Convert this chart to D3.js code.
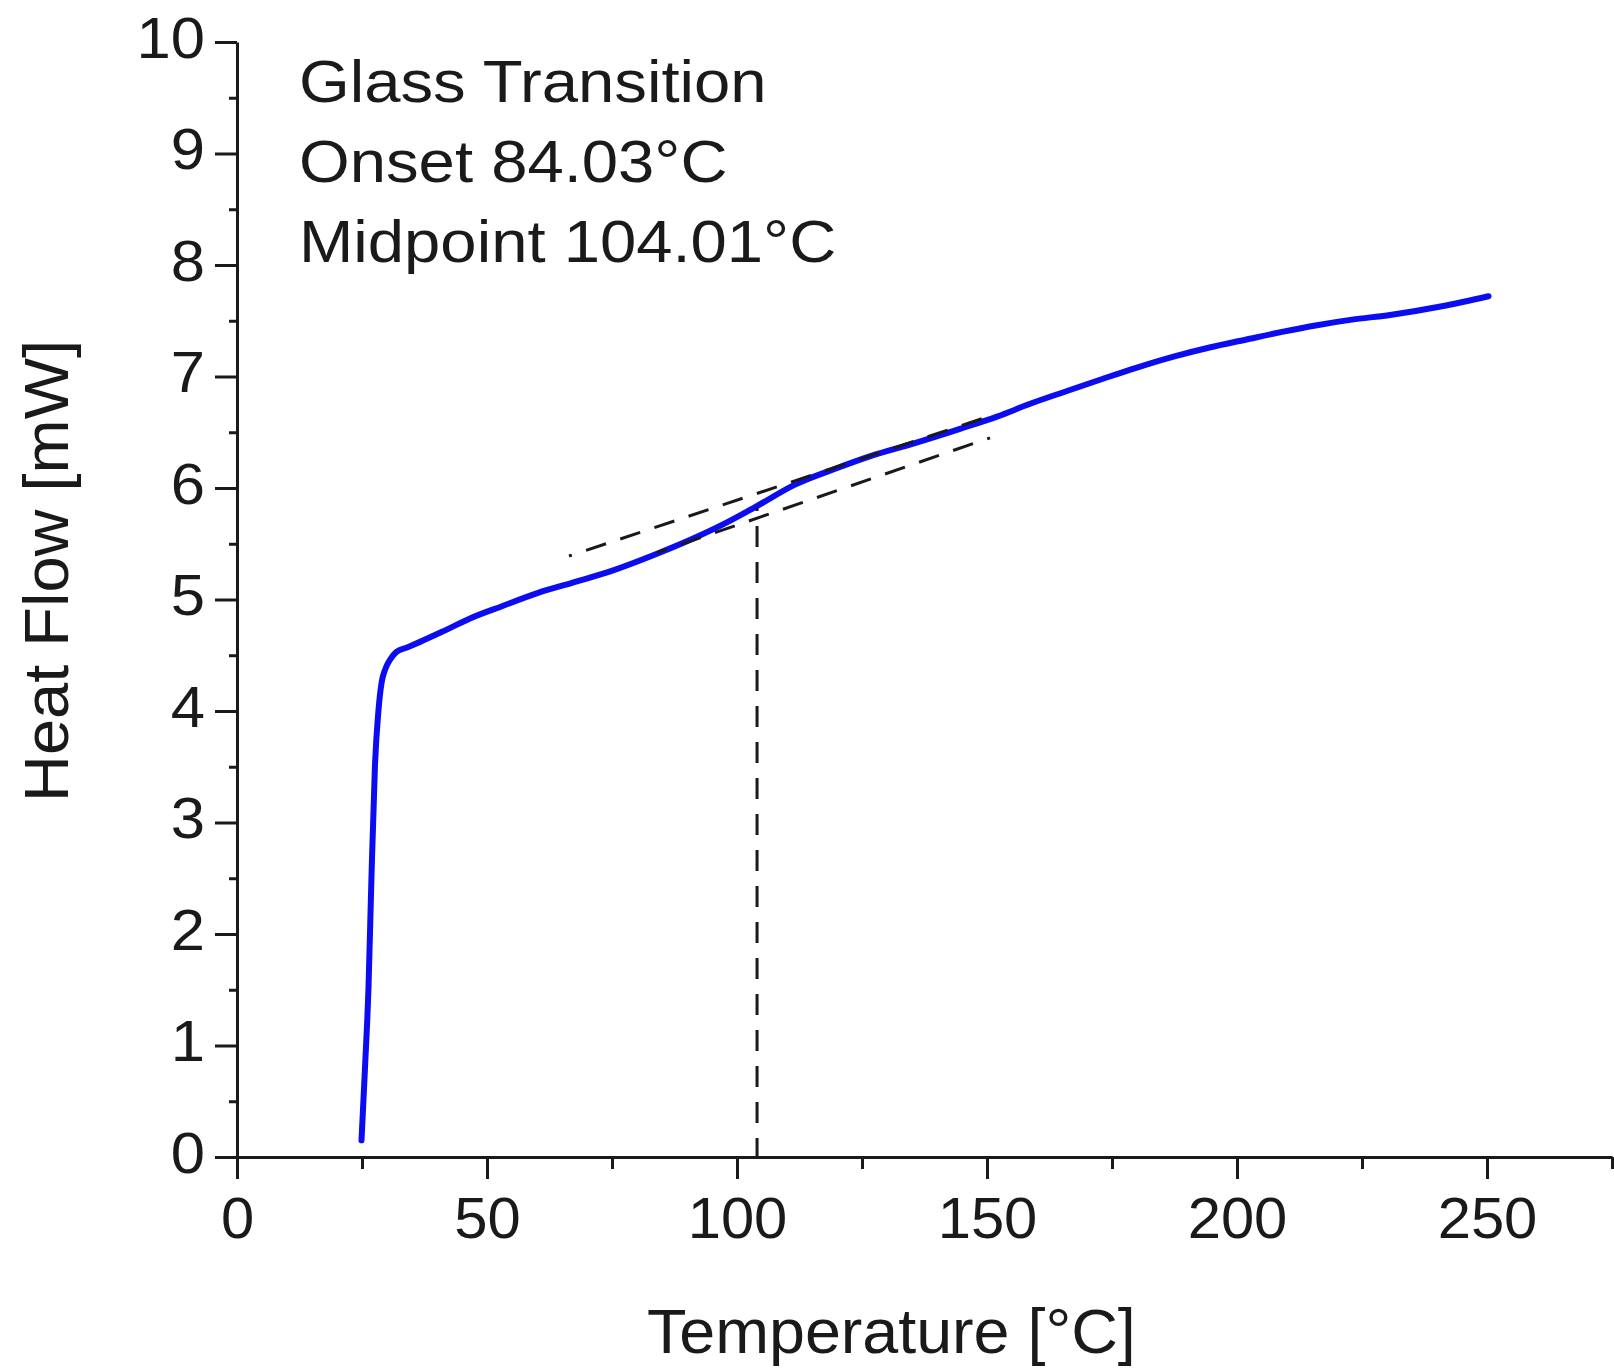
<!DOCTYPE html>
<html>
<head>
<meta charset="utf-8">
<script src="https://cdn.jsdelivr.net/npm/d3@7"></script>
<style>
  body { margin: 0; background: #fff; }
  text { font-family: "Liberation Sans", Arial, sans-serif; fill: #1a1a1a; }
</style>
</head>
<body>
<div id="chart-area"></div>
<script>
// DSC trace
var temperature = [24.9, 25.6, 26.3, 26.9, 27.6, 28.3, 28.9, 29.7, 30.6, 31.9, 34.0, 36.6, 41.0, 46.6, 53.0, 60.2, 67.0, 74.5, 84.0, 91.9, 97.5, 103.7, 111.6, 119.5, 127.0, 135.4, 144.6, 152.0, 158.9, 166.0, 173.2, 180.0, 187.5, 194.5, 201.7, 209.0, 216.0, 223.0, 230.3, 241.0, 250.3];
var heatFlow = [0.15, 0.80, 1.52, 2.52, 3.52, 4.01, 4.25, 4.38, 4.46, 4.53, 4.57, 4.62, 4.71, 4.83, 4.94, 5.06, 5.15, 5.25, 5.41, 5.56, 5.68, 5.83, 6.03, 6.17, 6.29, 6.40, 6.53, 6.64, 6.76, 6.87, 6.98, 7.08, 7.18, 7.26, 7.33, 7.40, 7.46, 7.51, 7.55, 7.63, 7.72];

// construction lines (tangents + midpoint drop)
var upperTangentT = [66.4, 150.2];
var upperTangentH = [5.39, 6.64];
var lowerTangentT = [150.6, 84.0];
var lowerTangentH = [6.45, 5.42];
var midpointT = [104.01, 104.01];
var midpointH = [5.82, 0];

var xTicks = [0, 50, 100, 150, 200, 250];
var xMinorTicks = [25, 75, 125, 175, 225, 275];
var yTicks = [0, 1, 2, 3, 4, 5, 6, 7, 8, 9, 10];
var yMinorTicks = [0.5, 1.5, 2.5, 3.5, 4.5, 5.5, 6.5, 7.5, 8.5, 9.5];
var annotation = ["Glass Transition", "Onset 84.03\u00b0C", "Midpoint 104.01\u00b0C"];
var xTitle = "Temperature [\u00b0C]";
var yTitle = "Heat Flow [mW]";

var width = 1614;
var height = 1369;
var margin = {top: 42, right: 2, bottom: 212, left: 237};
var ink = "#1a1a1a";

var svg = d3.select("#chart-area").append("svg")
  .attr("width", width)
  .attr("height", height);

var g = svg.append("g")
  .attr("transform", "translate(" + margin.left + "," + margin.top + ")");

var h = height - margin.top - margin.bottom;

var x = d3.scaleLinear().domain([0, 275]).range([0, 1375]);
var y = d3.scaleLinear().domain([0, 10]).range([h, 0]);

// stretch horizontal text a bit, the picture is wider than a plain font
function stretch(sel, k) {
  sel.each(function() {
    var len = this.getComputedTextLength();
    d3.select(this).attr("textLength", len * k).attr("lengthAdjust", "spacingAndGlyphs");
  });
}

// minor ticks first so the axis line sits on top
g.append("g")
  .attr("transform", "translate(0," + h + ")")
  .call(d3.axisBottom(x).tickValues(xMinorTicks).tickSize(12).tickFormat(""))
  .call(function(a) { a.select(".domain").remove(); })
  .selectAll("line").attr("stroke", ink).attr("stroke-width", 3);
g.append("g")
  .call(d3.axisLeft(y).tickValues(yMinorTicks).tickSize(8).tickFormat(""))
  .call(function(a) { a.select(".domain").remove(); })
  .selectAll("line").attr("stroke", ink).attr("stroke-width", 3);

var xAxis = g.append("g")
  .attr("transform", "translate(0," + h + ")")
  .call(d3.axisBottom(x).tickValues(xTicks).tickSize(22).tickSizeOuter(0).tickPadding(0));
xAxis.select(".domain").attr("stroke", ink).attr("stroke-width", 3);
xAxis.selectAll(".tick line").attr("stroke", ink).attr("stroke-width", 3);
xAxis.selectAll(".tick text")
  .attr("y", 81).attr("dy", null)
  .attr("font-size", 58)
  .attr("fill", ink)
  .style("font-family", "'Liberation Sans', Arial, sans-serif")
  .call(stretch, 1.03);

var yAxis = g.append("g")
  .call(d3.axisLeft(y).tickValues(yTicks).tickSize(22).tickSizeOuter(0).tickPadding(0));
yAxis.select(".domain").attr("stroke", ink).attr("stroke-width", 3);
yAxis.selectAll(".tick line").attr("stroke", ink).attr("stroke-width", 3);
yAxis.selectAll(".tick text")
  .attr("x", -32).attr("dy", null).attr("y", 15)
  .attr("font-size", 57)
  .attr("fill", ink)
  .style("font-family", "'Liberation Sans', Arial, sans-serif")
  .call(stretch, 1.08);

// construction lines
var seg = d3.line()
  .x(function(d) { return x(d[0]); })
  .y(function(d) { return y(d[1]); });

function drawDashed(ts, hs) {
  g.append("path")
    .datum(ts.map(function(t, i) { return [t, hs[i]]; }))
    .attr("d", seg)
    .attr("fill", "none")
    .attr("stroke", ink)
    .attr("stroke-width", 3)
    .attr("stroke-dasharray", "21,15")
    .attr("stroke-dashoffset", 18);
}

// the heat flow curve
var line = d3.line()
  .x(function(d) { return x(d[0]); })
  .y(function(d) { return y(d[1]); })
  .curve(d3.curveMonotoneX);

g.append("path")
  .datum(temperature.map(function(t, i) { return [t, heatFlow[i]]; }))
  .attr("d", line)
  .attr("fill", "none")
  .attr("stroke", "#0c0cf0")
  .attr("stroke-width", 6)
  .attr("stroke-linejoin", "round")
  .attr("stroke-linecap", "round");

drawDashed(upperTangentT, upperTangentH);
drawDashed(lowerTangentT, lowerTangentH);
drawDashed(midpointT, midpointH);

// annotation block
svg.append("g").selectAll("text")
  .data(annotation)
  .enter().append("text")
  .attr("x", 299)
  .attr("y", function(d, i) { return 102 + i * 80; })
  .attr("font-size", 60)
  .text(function(d) { return d; })
  .call(stretch, 1.087);

// axis titles
svg.append("text")
  .attr("x", 647)
  .attr("y", 1353)
  .attr("font-size", 63)
  .text(xTitle)
  .call(stretch, 1.025);

svg.append("text")
  .attr("transform", "translate(68,802) rotate(-90)")
  .attr("font-size", 63)
  .attr("textLength", 462)
  .attr("lengthAdjust", "spacingAndGlyphs")
  .text(yTitle);
</script>
</body>
</html>
